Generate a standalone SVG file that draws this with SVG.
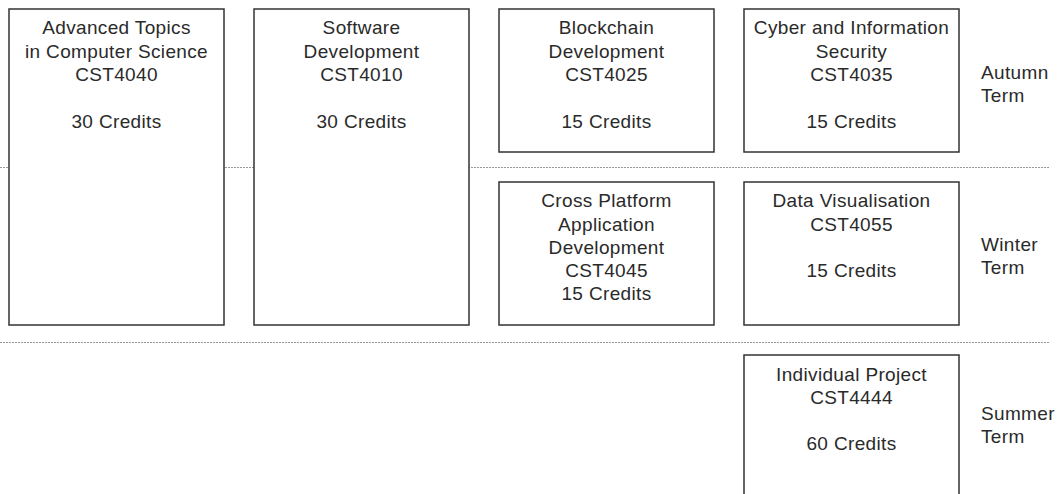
<svg xmlns="http://www.w3.org/2000/svg" width="1062" height="494" viewBox="0 0 1062 494">
<style>
.box{fill:#fff;stroke:#333;stroke-width:1.5}
.sep{stroke:#999;stroke-width:1;stroke-dasharray:2 1;fill:none}
text{font-family:"Liberation Sans",Arial,sans-serif;font-size:19px;letter-spacing:0.35px;fill:#2a2a2a}
.c{text-anchor:middle}
</style>
<rect width="1062" height="494" fill="#fff"/>
<g id="separators">
<line class="sep" x1="0" y1="167.5" x2="1050" y2="167.5"/>
<line class="sep" x1="0" y1="342.5" x2="1050" y2="342.5"/>
</g>
<g id="cst4040">
<rect class="box" x="9" y="9" width="215" height="316"/>
<text class="c" x="116.5" y="34">Advanced Topics</text>
<text class="c" x="116.5" y="57.5">in Computer Science</text>
<text class="c" x="116.5" y="81">CST4040</text>
<text class="c" x="116.5" y="128">30 Credits</text>
</g>
<g id="cst4010">
<rect class="box" x="254" y="9" width="215" height="316"/>
<text class="c" x="361.5" y="34">Software</text>
<text class="c" x="361.5" y="57.5">Development</text>
<text class="c" x="361.5" y="81">CST4010</text>
<text class="c" x="361.5" y="128">30 Credits</text>
</g>
<g id="cst4025">
<rect class="box" x="499" y="9" width="215" height="143"/>
<text class="c" x="606.5" y="34">Blockchain</text>
<text class="c" x="606.5" y="57.5">Development</text>
<text class="c" x="606.5" y="81">CST4025</text>
<text class="c" x="606.5" y="128">15 Credits</text>
</g>
<g id="cst4035">
<rect class="box" x="744" y="9" width="215" height="143"/>
<text class="c" x="851.5" y="34">Cyber and Information</text>
<text class="c" x="851.5" y="57.5">Security</text>
<text class="c" x="851.5" y="81">CST4035</text>
<text class="c" x="851.5" y="128">15 Credits</text>
</g>
<g id="cst4045">
<rect class="box" x="499" y="182" width="215" height="143"/>
<text class="c" x="606.5" y="207">Cross Platform</text>
<text class="c" x="606.5" y="230.5">Application</text>
<text class="c" x="606.5" y="254">Development</text>
<text class="c" x="606.5" y="277">CST4045</text>
<text class="c" x="606.5" y="300">15 Credits</text>
</g>
<g id="cst4055">
<rect class="box" x="744" y="182" width="215" height="143"/>
<text class="c" x="851.5" y="207">Data Visualisation</text>
<text class="c" x="851.5" y="230.5">CST4055</text>
<text class="c" x="851.5" y="277">15 Credits</text>
</g>
<g id="cst4444">
<rect class="box" x="744" y="355" width="215" height="150"/>
<text class="c" x="851.5" y="381">Individual Project</text>
<text class="c" x="851.5" y="404">CST4444</text>
<text class="c" x="851.5" y="450">60 Credits</text>
</g>
<g id="terms">
<text x="981" y="79">Autumn</text>
<text x="981" y="102">Term</text>
<text x="981" y="251">Winter</text>
<text x="981" y="274">Term</text>
<text x="981" y="420">Summer</text>
<text x="981" y="443">Term</text>
</g>
</svg>
